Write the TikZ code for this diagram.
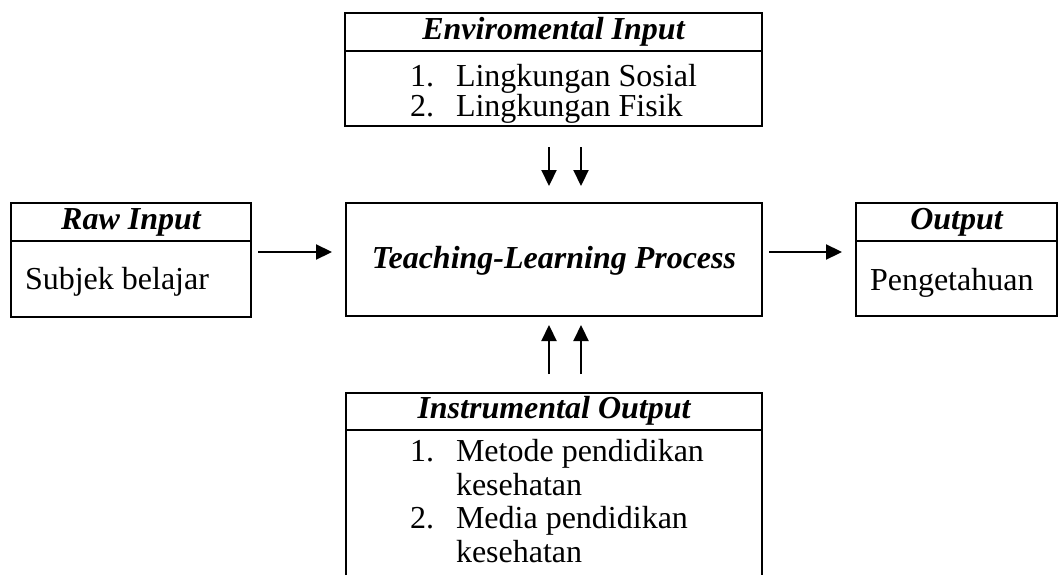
\documentclass[tikz,border=0pt]{standalone}
\usepackage{fontspec}
\setmainfont{Liberation Serif}
\usetikzlibrary{arrows.meta}
\begin{document}
\begin{tikzpicture}[x=1pt,y=-1pt,
  every node/.style={font=\fontsize{32}{34}\selectfont, inner sep=0pt, outer sep=0pt},
  box/.style={draw, line width=2.5pt, rectangle, minimum width=#1},
  hdr/.style={font=\fontsize{32}{34}\selectfont\bfseries\itshape},
  itm/.style={anchor=base west},
  rule/.style={line width=2.5pt},
  arr/.style={line width=2.2pt, -{Triangle[length=16pt,width=15pt]}},
]
\useasboundingbox (0,0) rectangle (1059,575);
\coordinate (a1) at (549,0);
\coordinate (a2) at (581,0);
\coordinate (h) at (0,252);

% Environmental input
\node[box=417, minimum height=113] (env) at (553.5,69.5) {};
\node[hdr] (envh) at (553.5,32) {Enviromental Input};
\draw[rule] (env.west |- 0,51) -- (env.east |- 0,51);
\node[itm] (e1n) at (410,87) {1.};
\node[itm] (e1) at (456,87) {Lingkungan Sosial};
\node[itm] (e2n) at (410,117) {2.};
\node[itm] (e2) at (456,117) {Lingkungan Fisik};

% Raw input
\node[box=240, minimum height=114] (raw) at (131,260) {};
\node[hdr] (rawh) at (131,222) {Raw Input};
\draw[rule] (raw.west |- 0,241) -- (raw.east |- 0,241);
\node[itm] (raw1) at (25,289) {Subjek belajar};

% Process
\node[box=416, minimum height=113] (proc) at (554,259.5) {};
\node[hdr, anchor=base] (proct) at (554,268) {Teaching-Learning Process};

% Output
\node[box=201, minimum height=113] (out) at (956.5,259.5) {};
\node[hdr] (outh) at (956.5,222) {Output};
\draw[rule] (out.west |- 0,241) -- (out.east |- 0,241);
\node[itm] (out1) at (870,290) {Pengetahuan};

% Instrumental output (open at the bottom)
\node[minimum width=416, minimum height=182] (instr) at (554,484) {};
\draw[rule, line join=miter] (instr.south west) -- (instr.north west) -- (instr.north east) -- (instr.south east);
\node[hdr] (instrh) at (554,411) {Instrumental Output};
\draw[rule] (instr.west |- 0,430) -- (instr.east |- 0,430);
\node[itm] (i1n) at (410,461) {1.};
\node[itm] (i1) at (456,461) {Metode pendidikan};
\node[itm] (i1b) at (456,495) {kesehatan};
\node[itm] (i2n) at (410,528) {2.};
\node[itm] (i2) at (456,528) {Media pendidikan};
\node[itm] (i2b) at (456,562) {kesehatan};

% Arrows
\draw[arr, shorten <=7pt, shorten >=14pt] (raw.east |- h) -- (proc.west |- h);
\draw[arr, shorten <=7pt, shorten >=14pt] (proc.east |- h) -- (out.west |- h);
\draw[arr, shorten <=21pt, shorten >=17pt] (env.south -| a1) -- (proc.north -| a1);
\draw[arr, shorten <=21pt, shorten >=17pt] (env.south -| a2) -- (proc.north -| a2);
\draw[arr, shorten <=19pt, shorten >=9pt] (instr.north -| a1) -- (proc.south -| a1);
\draw[arr, shorten <=19pt, shorten >=9pt] (instr.north -| a2) -- (proc.south -| a2);
\end{tikzpicture}
\end{document}
